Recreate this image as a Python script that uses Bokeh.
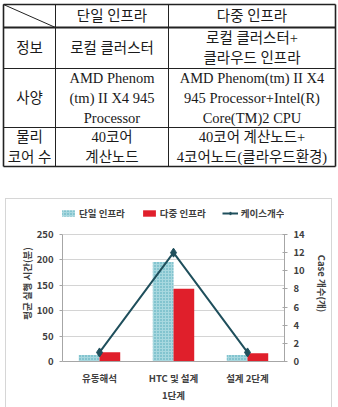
from bokeh.plotting import figure
from bokeh.models import (FactorRange, Range1d, LinearAxis, Legend, LegendItem,
                          FixedTicker, ColumnDataSource, Div)
from bokeh.transform import dodge
from bokeh.core.properties import value
from bokeh.embed import file_html
from bokeh.resources import INLINE

# ---------------- table data ----------------
col_headers = ["단일 인프라", "다중 인프라"]
row_headers = ["정보", "사양", "물리\n코어 수"]
single_infra = ["로컬 클러스터",
                "AMD Phenom\n(tm) II X4 945\nProcessor",
                "40코어\n계산노드"]
multi_infra = ["로컬 클러스터+\n클라우드 인프라",
               "AMD Phenom(tm) II X4\n945 Processor+Intel(R)\nCore(TM)2 CPU",
               "40코어 계산노드+\n4코어노드(클라우드환경)"]

# ---------------- chart data ----------------
categories = ["유동해석", "HTC 및 설계", "설계 2단계"]
single_time = [13, 196, 13]
multi_time = [18, 143, 16]
case_count = [1, 12, 1]
left_ticks = [0, 50, 100, 150, 200, 250]
right_ticks = [0, 2, 4, 6, 8, 10, 12, 14]
left_max, right_max = 250, 14

# ================= table figure =================
TW, TH = 338, 198
t = figure(width=TW, height=TH, x_range=Range1d(0, TW), y_range=Range1d(TH, 0),
           output_backend="svg", toolbar_location=None, min_border=0)
t.axis.visible = False
t.grid.visible = False
t.outline_line_color = None

col_x = [3, 55, 168, 335]
row_y = [4, 27, 68, 127, 166]

t.segment(x0=[col_x[1], col_x[2]], y0=[row_y[0]] * 2, x1=[col_x[1], col_x[2]],
          y1=[row_y[-1]] * 2, line_color="#222222", line_width=1)
t.segment(x0=[col_x[0]] * 2, y0=row_y[2:4], x1=[col_x[-1]] * 2, y1=row_y[2:4],
          line_color="#222222", line_width=1)
t.segment(x0=[col_x[0]], y0=[row_y[1]], x1=[col_x[-1]], y1=[row_y[1]],
          line_color="#222222", line_width=2)
t.segment(x0=[col_x[0], col_x[0], col_x[0], col_x[-1]],
          y0=[row_y[0], row_y[-1], row_y[0], row_y[0]],
          x1=[col_x[-1], col_x[-1], col_x[0], col_x[-1]],
          y1=[row_y[0], row_y[-1], row_y[-1], row_y[-1]],
          line_color="#222222", line_width=1.6)
t.segment(x0=[col_x[0]], y0=[row_y[0]], x1=[col_x[1]], y1=[row_y[1]],
          line_color="#222222", line_width=1)

tfont = value("Liberation Serif, Noto Sans CJK KR")
cx = [(col_x[i] + col_x[i + 1]) / 2 for i in range(3)]
cy = [(row_y[i] + row_y[i + 1]) / 2 for i in range(4)]

texts, xs, ys = [], [], []
for j, h in enumerate(col_headers):
    texts.append(h); xs.append(cx[j + 1]); ys.append(cy[0])
for i in range(3):
    texts += [row_headers[i], single_infra[i], multi_infra[i]]
    xs += [cx[0], cx[1], cx[2]]
    ys += [cy[i + 1]] * 3
t.text(x=xs, y=ys, text=texts, text_font=tfont, text_font_size="14.5px",
       text_align="center", text_baseline="middle", text_color="#1a1a1a",
       text_line_height=1.22)

# ================= chart figure =================
# plot area 127 px tall for the value range; 29 px extra on top hold the legend
plot_px, legend_px = 127, 29
p = figure(x_range=FactorRange(*categories, range_padding=0),
           y_range=Range1d(0, left_max * (1 + legend_px / plot_px)),
           width=338, height=209,
           output_backend="svg", toolbar_location=None,
           min_border_left=62, min_border_right=54,
           min_border_top=7, min_border_bottom=46)
p.extra_y_ranges = {"cnt": Range1d(0, right_max * (1 + legend_px / plot_px))}
p.outline_line_color = None
p.xgrid.grid_line_color = None
p.ygrid.ticker = FixedTicker(ticks=left_ticks)
p.ygrid.grid_line_color = "#d4d4d4"

src = ColumnDataSource(dict(cat=categories, single=single_time,
                            multi=multi_time, cnt=case_count))
r1 = p.vbar(x=dodge("cat", -0.14, range=p.x_range), top="single", width=0.28,
            source=src, fill_color="#a8d8df", line_color=None,
            hatch_pattern="dot", hatch_color="#4aa5b5", hatch_scale=3,
            hatch_weight=1)
r2 = p.vbar(x=dodge("cat", 0.14, range=p.x_range), top="multi", width=0.28,
            source=src, fill_color="#e01f2b", line_color=None)
r3 = p.line(x="cat", y="cnt", source=src, y_range_name="cnt",
            line_color="#1f4f5c", line_width=2)
r4 = p.scatter(x="cat", y="cnt", source=src, y_range_name="cnt",
               marker="diamond", size=9, fill_color="#1f4f5c",
               line_color="#1f4f5c")

cfont = "Noto Sans CJK KR"
txt_col = "#404040"
ax_col = "#a6a6a6"

la = p.yaxis[0]
la.ticker = FixedTicker(ticks=left_ticks)
la.bounds = (0, left_max)
la.axis_label = "평균 실행 시간(분)"
ba = p.xaxis[0]
ba.axis_label = "1단계"
ba.major_tick_line_color = None

ra = LinearAxis(y_range_name="cnt", ticker=FixedTicker(ticks=right_ticks),
                bounds=(0, right_max), axis_label="Case 개수(개)")
p.add_layout(ra, "right")

for a in [la, ba, ra]:
    a.axis_line_color = ax_col
    a.minor_tick_line_color = None
    a.major_label_text_font = cfont
    a.major_label_text_font_size = "9.5px"
    a.major_label_text_font_style = "bold"
    a.major_label_text_color = txt_col
    a.axis_label_text_font = cfont
    a.axis_label_text_font_size = "9.5px"
    a.axis_label_text_font_style = "bold"
    a.axis_label_text_color = txt_col
for a in [la, ra]:
    a.major_tick_line_color = ax_col
    a.major_tick_out = 3
    a.major_tick_in = 0
    a.major_label_standoff = 6
ra.major_tick_in = 2
la.axis_label_standoff = 0
ra.axis_label_standoff = 7
ba.major_label_standoff = 3
ba.axis_label_standoff = 0

legend = Legend(items=[LegendItem(label="단일 인프라", renderers=[r1]),
                       LegendItem(label="다중 인프라", renderers=[r2]),
                       LegendItem(label="케이스개수", renderers=[r3, r4])],
                orientation="horizontal", location=(-2, 141),
                padding=0, margin=0, spacing=16, label_standoff=3,
                glyph_width=16, glyph_height=8, label_height=12,
                border_line_color=None, background_fill_alpha=0,
                label_text_font=cfont, label_text_font_size="9.5px",
                label_text_font_style="bold", label_text_color=txt_col)
p.add_layout(legend)

frame_box = Div(text="", width=0, height=0, margin=0,
                styles={"position": "fixed", "left": "5px", "top": "198px",
                        "width": "327px", "height": "215px",
                        "border": "1px solid #d6d6d6",
                        "pointer-events": "none", "z-index": "10"})

open("out.html", "w").write(file_html([t, p, frame_box], INLINE))
